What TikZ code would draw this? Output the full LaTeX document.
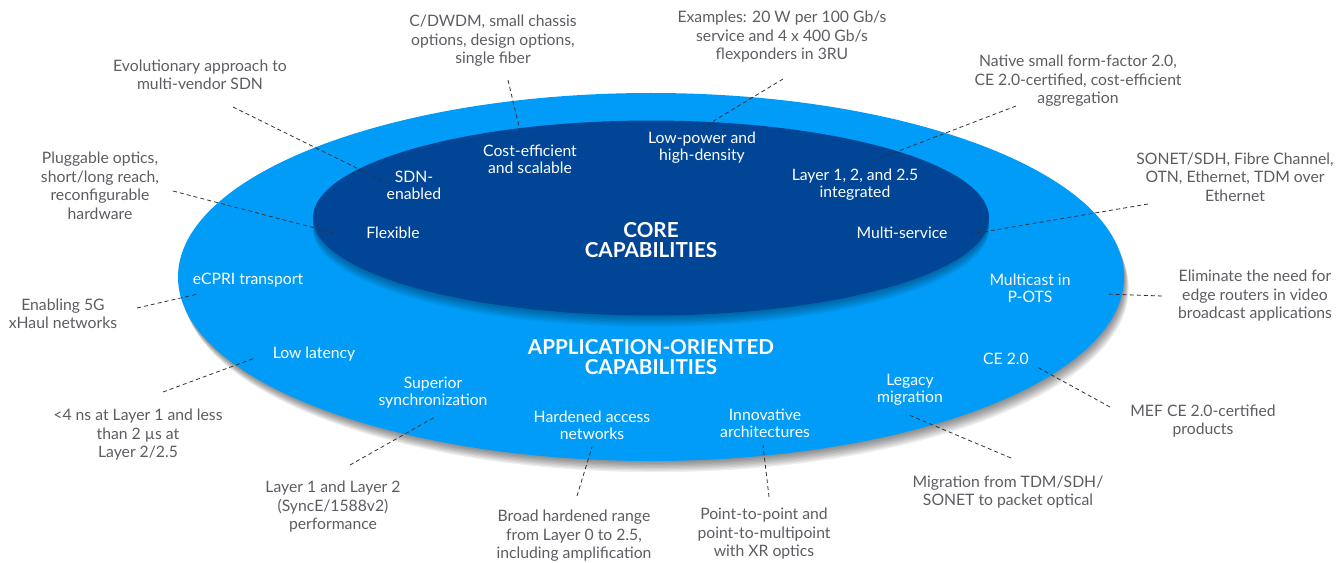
\documentclass[tikz,border=0pt]{standalone}
\usepackage{fontspec}
\setmainfont{Lato}
\usepackage{tikz}

\definecolor{appblue}{HTML}{009CF8}
\definecolor{coreblue}{HTML}{004596}
\definecolor{notegrey}{HTML}{5C5D63}
\definecolor{leadgrey}{HTML}{333338}

\begin{document}
\begin{tikzpicture}[x=0.75pt,y=-0.75pt,
		note/.style={align=center, inner sep=0pt, text=notegrey, font=\fontsize{11.8}{13.9}\selectfont},
		feat/.style={align=center, inner sep=0pt, text=white, font=\fontsize{11.8}{12.8}\selectfont},
		heading/.style={align=center, inner sep=0pt, text=white, font=\fontsize{15.5}{14.8}\selectfont\bfseries},
		lead/.style={draw=leadgrey, line width=0.6pt, dash pattern=on 3pt off 2.3pt}]
	\useasboundingbox (0,0) rectangle (1343,563);

	\foreach \k in {1,...,8}
		\fill[black, opacity=0.065] (651+0.6*\k,277+1.4*\k) ellipse [x radius=354.75pt, y radius=138pt];
	\fill[appblue] (651,277) ellipse [x radius=354.75pt, y radius=138pt];
	\foreach \k in {1,...,7}
		\fill[black, opacity=0.05] (651,218+1.6*\k) ellipse [x radius=253.5pt, y radius=73.1pt];
	\fill[coreblue] (651,218) ellipse [x radius=253.5pt, y radius=73.1pt];

	\node[heading] (core) at (651,240) {CORE\\CAPABILITIES};
	\node[feat] (sdn) at (414,185) {SDN-\\enabled};
	\node[feat] (flex) at (393,233) {Flexible};
	\node[feat] (cost) at (530,159) {Cost-efficient\\and scalable};
	\node[feat] (lowp) at (702,148) {Low-power and\\high-density};
	\node[feat] (layer) at (855,185) {Layer 1, 2, and 2.5\\integrated};
	\node[feat] (multi) at (902,233) {Multi-service};

	\node[heading] (app) at (651,357) {APPLICATION-ORIENTED\\CAPABILITIES};
	\node[feat] (ecpri) at (248,280) {eCPRI transport};
	\node[feat] (lowlat) at (314,354) {Low latency};
	\node[feat] (sync) at (433,393) {Superior\\synchronization};
	\node[feat] (hard) at (592,425) {Hardened access\\networks};
	\node[feat] (innov) at (765,423) {Innovative\\architectures};
	\node[feat] (legacy) at (910,390) {Legacy\\migration};
	\node[feat] (ce) at (1006,359) {CE 2.0};
	\node[feat] (mcast) at (1030,288) {Multicast in\\P-OTS};

	\node[note] (n1) at (200,75) {Evolutionary approach to\\multi-vendor SDN};
	\node[note] (n2) at (100,186) {Pluggable optics,\\short/long reach,\\reconfigurable\\hardware};
	\node[note] (n3) at (493,41) {C/DWDM, small chassis\\options, design options,\\single fiber};
	\node[note] (n4) at (782,37) {Examples: 20 W per 100 Gb/s\\service and 4 x 400 Gb/s\\flexponders in 3RU};
	\node[note] (n5) at (1078,81) {Native small form-factor 2.0,\\CE 2.0-certified, cost-efficient\\aggregation};
	\node[note] (n6) at (1235,177) {SONET/SDH, Fibre Channel,\\OTN, Ethernet, TDM over\\Ethernet};
	\node[note] (n7) at (63,314) {Enabling 5G\\xHaul networks};
	\node[note] (n8) at (1255,296) {Eliminate the need for\\edge routers in video\\broadcast applications};
	\node[note] (n9) at (138,435) {<4 ns at Layer 1 and less\\than 2 µs at\\Layer 2/2.5};
	\node[note] (n10) at (333,507) {Layer 1 and Layer 2\\(SyncE/1588v2)\\performance};
	\node[note] (n11) at (574,536) {Broad hardened range\\from Layer 0 to 2.5,\\including amplification};
	\node[note] (n12) at (764,534) {Point-to-point and\\point-to-multipoint\\with XR optics};
	\node[note] (n13) at (1008,492) {Migration from TDM/SDH/\\SONET to packet optical};
	\node[note] (n14) at (1203,421) {MEF CE 2.0-certified\\products};

	\draw[lead] ([shift={(33,32)}]n1.center) -- ([shift={(-27,-2)}]sdn.center);
	\draw[lead] ([shift={(73,5)}]n2.center) -- ([shift={(-59,0)}]flex.center);
	\draw[lead] ([shift={(15,39)}]n3.center) -- ([shift={(-9,-24)}]cost.center);
	\draw[lead] ([shift={(1,42)}]n4.center) -- ([shift={(0,-20)}]lowp.center);
	\draw[lead] ([shift={(-62,25)}]n5.center) -- ([shift={(15,-23)}]layer.center);
	\draw[lead] ([shift={(-87,27)}]n6.center) -- ([shift={(69,1)}]multi.center);
	\draw[lead] ([shift={(74,-6)}]n7.center) -- ([shift={(-50,14)}]ecpri.center);
	\draw[lead] ([shift={(-93,0)}]n8.center) -- ([shift={(76,6)}]mcast.center);
	\draw[lead] ([shift={(25,-43)}]n9.center) -- ([shift={(-59,4)}]lowlat.center);
	\draw[lead] ([shift={(17,-42)}]n10.center) -- ([shift={(2,24)}]sync.center);
	\draw[lead] ([shift={(3,-40)}]n11.center) -- ([shift={(0,22)}]hard.center);
	\draw[lead] ([shift={(5,-37)}]n12.center) -- ([shift={(-2,22)}]innov.center);
	\draw[lead] ([shift={(3,-34)}]n13.center) -- ([shift={(-1,25)}]legacy.center);
	\draw[lead] ([shift={(-93,-14)}]n14.center) -- ([shift={(31,8)}]ce.center);
\end{tikzpicture}
\end{document}
